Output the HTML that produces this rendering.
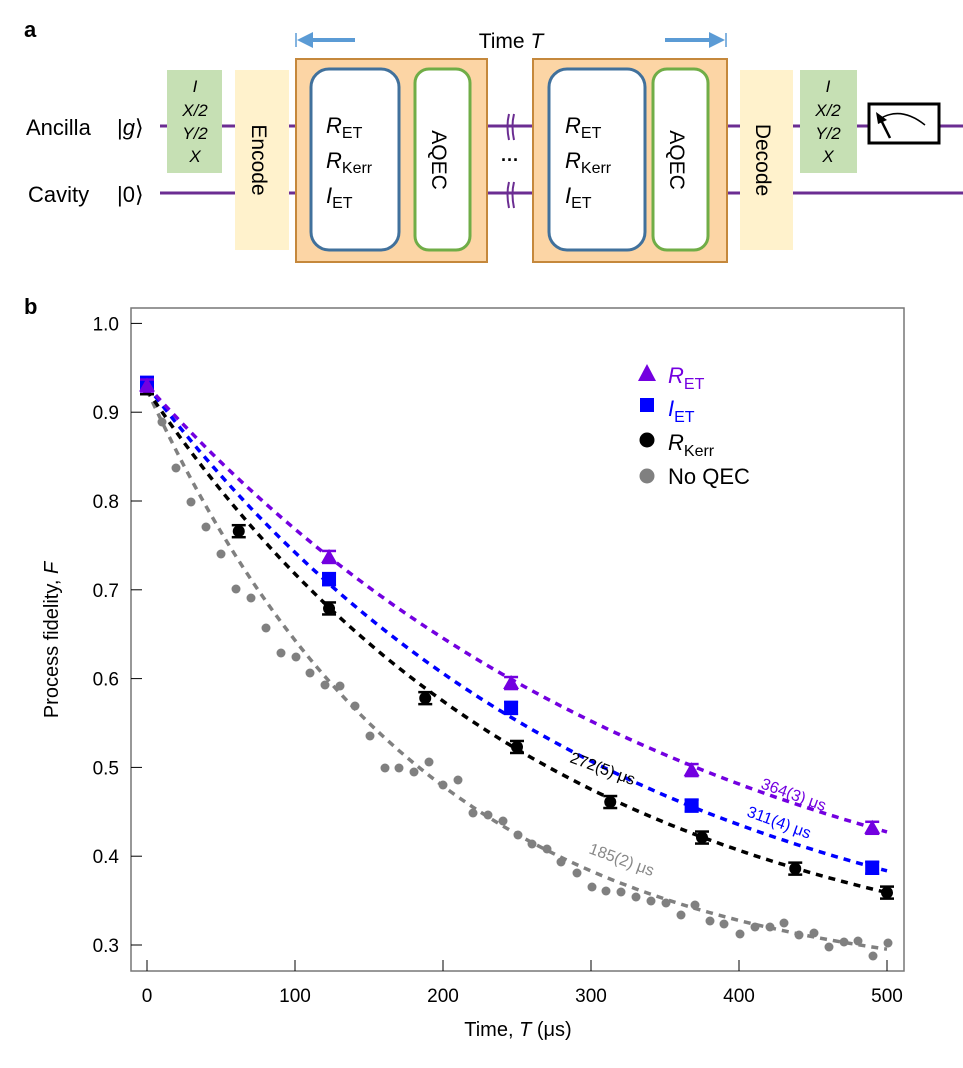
<!DOCTYPE html>
<html><head><meta charset="utf-8"><style>
html,body{margin:0;padding:0;background:#fff;}
svg{display:block;font-family:"Liberation Sans",Arial,sans-serif;}
</style></head><body>
<svg id="s" width="963" height="1068" viewBox="0 0 963 1068" xmlns="http://www.w3.org/2000/svg">
<text x="24" y="37" font-size="22" font-weight="bold">a</text>
<text x="24" y="314" font-size="22" font-weight="bold">b</text>
<line x1="160" y1="126" x2="963" y2="126" stroke="#6b2d92" stroke-width="3"/>
<line x1="160" y1="193" x2="963" y2="193" stroke="#6b2d92" stroke-width="3"/>
<text x="26" y="135" font-size="22" font-weight="normal">Ancilla</text>
<text x="117" y="135" font-size="22" font-weight="normal">|<tspan font-style="italic">g</tspan>⟩</text>
<text x="28" y="202" font-size="22" font-weight="normal">Cavity</text>
<text x="117" y="202" font-size="22" font-weight="normal">|0⟩</text>
<rect x="167" y="70" width="55" height="103" fill="#c6e0b4"/>
<g font-size="17" font-style="italic" text-anchor="middle"><text x="195" y="92">I</text><text x="195" y="116">X/2</text><text x="195" y="139">Y/2</text><text x="195" y="162">X</text></g>
<rect x="235" y="70" width="54" height="180" fill="#fff2cc"/>
<text transform="translate(252,160) rotate(90)" font-size="21" text-anchor="middle">Encode</text>
<rect x="296" y="59" width="191" height="203" fill="#fcd5a5" stroke="#c5883c" stroke-width="2"/>
<rect x="311" y="69" width="88" height="181" rx="18" fill="#fff" stroke="#41719c" stroke-width="3"/>
<rect x="415" y="69" width="55" height="181" rx="14" fill="#fff" stroke="#70ad47" stroke-width="3"/>
<text transform="translate(432,160) rotate(90)" font-size="21" text-anchor="middle">AQEC</text>
<g font-size="22"><text x="326" y="133" font-style="italic">R<tspan font-size="16" font-style="normal" dy="5">ET</tspan></text>
<text x="326" y="168" font-style="italic">R<tspan font-size="16" font-style="normal" dy="5">Kerr</tspan></text>
<text x="326" y="203" font-style="italic">I<tspan font-size="16" font-style="normal" dy="5">ET</tspan></text></g>
<rect x="533" y="59" width="194" height="203" fill="#fcd5a5" stroke="#c5883c" stroke-width="2"/>
<rect x="549" y="69" width="96" height="181" rx="18" fill="#fff" stroke="#41719c" stroke-width="3"/>
<rect x="653" y="69" width="55" height="181" rx="14" fill="#fff" stroke="#70ad47" stroke-width="3"/>
<text transform="translate(670,160) rotate(90)" font-size="21" text-anchor="middle">AQEC</text>
<g font-size="22"><text x="565" y="133" font-style="italic">R<tspan font-size="16" font-style="normal" dy="5">ET</tspan></text>
<text x="565" y="168" font-style="italic">R<tspan font-size="16" font-style="normal" dy="5">Kerr</tspan></text>
<text x="565" y="203" font-style="italic">I<tspan font-size="16" font-style="normal" dy="5">ET</tspan></text></g>
<g stroke="#6b2d92" stroke-width="2" fill="none"><path d="M278 114 q-3 12 0 26 M283 114 q-3 12 0 26 M278 182 q-3 12 0 26 M283 182 q-3 12 0 26" transform="translate(231,0)"/></g>
<text x="510" y="166" font-size="18" font-weight="bold" text-anchor="middle">···</text>
<rect x="740" y="70" width="53" height="180" fill="#fff2cc"/>
<text transform="translate(756,160) rotate(90)" font-size="21" text-anchor="middle">Decode</text>
<rect x="800" y="70" width="57" height="103" fill="#c6e0b4"/>
<g font-size="17" font-style="italic" text-anchor="middle"><text x="828" y="92">I</text><text x="828" y="116">X/2</text><text x="828" y="139">Y/2</text><text x="828" y="162">X</text></g>
<rect x="869" y="104" width="70" height="39" fill="#fff" stroke="#000" stroke-width="3"/>
<path d="M878 120 Q900 105 925 125" stroke="#000" stroke-width="1.5" fill="none"/>
<line x1="890" y1="138" x2="880" y2="118" stroke="#000" stroke-width="2.5"/>
<polygon points="876,112 887,120 878,124" fill="#000"/>
<line x1="296" y1="33" x2="296" y2="47" stroke="#5b9bd5" stroke-width="1.5"/>
<line x1="310" y1="40" x2="355" y2="40" stroke="#5b9bd5" stroke-width="4"/>
<polygon points="297,40 313,32 313,48" fill="#5b9bd5"/>
<line x1="726" y1="33" x2="726" y2="47" stroke="#5b9bd5" stroke-width="1.5"/>
<line x1="665" y1="40" x2="712" y2="40" stroke="#5b9bd5" stroke-width="4"/>
<polygon points="725,40 709,32 709,48" fill="#5b9bd5"/>
<text x="511" y="48" font-size="21" text-anchor="middle">Time <tspan font-style="italic">T</tspan></text>
<rect x="131" y="308" width="773" height="663" fill="none" stroke="#777" stroke-width="1.5"/>
<g id="ticks" stroke="#000" stroke-width="1"></g>
<g id="tl" font-size="19" fill="#000"></g>
<text transform="translate(58,640) rotate(-90)" font-size="20" text-anchor="middle">Process fidelity, <tspan font-style="italic">F</tspan></text>
<text x="518" y="1036" font-size="20" text-anchor="middle">Time, <tspan font-style="italic">T</tspan> (μs)</text>
<g id="data"></g>
<text transform="translate(760,788) rotate(20)" font-size="16" fill="#7300e0">364(3) μs</text>
<text transform="translate(746,816) rotate(20)" font-size="16" fill="#0000ff">311(4) μs</text>
<text transform="translate(569,762) rotate(20)" font-size="16" fill="#000">272(5) μs</text>
<text transform="translate(588,853) rotate(20)" font-size="16" fill="#888">185(2) μs</text>
<polygon points="638,381 656,381 647,364" fill="#7300e0"/>
<text x="668" y="383" font-size="22" fill="#7300e0" font-style="italic">R<tspan font-size="16" font-style="normal" dy="6">ET</tspan></text>
<rect x="640" y="398" width="14" height="14" fill="#0000ff"/>
<text x="668" y="416" font-size="22" fill="#0000ff" font-style="italic">I<tspan font-size="16" font-style="normal" dy="6">ET</tspan></text>
<circle cx="647" cy="440" r="7.5" fill="#000"/>
<text x="668" y="450" font-size="22" font-style="italic">R<tspan font-size="16" font-style="normal" dy="6">Kerr</tspan></text>
<circle cx="647" cy="476" r="7.5" fill="#808080"/>
<text x="668" y="484" font-size="22">No QEC</text>
</svg>
<script>
var NS="http://www.w3.org/2000/svg";
function X(t){return 147+t*1.48;}
function Y(f){return 945-(f-0.3)*888;}
function el(p,tag,a){var e=document.createElementNS(NS,tag);for(var k in a)e.setAttribute(k,a[k]);p.appendChild(e);return e;}
var tk=document.getElementById('ticks'),tl=document.getElementById('tl'),d=document.getElementById('data');
for(var i=0;i<=7;i++){var f=0.3+i*0.1,y=Y(f);el(tk,'line',{x1:131,x2:142,y1:y,y2:y});
 var t=el(tl,'text',{x:119,y:y+7,'text-anchor':'end'});t.textContent=f.toFixed(1);}
for(var i=0;i<=5;i++){var x=X(i*100);el(tk,'line',{x1:x,x2:x,y1:960,y2:971});
 var t=el(tl,'text',{x:x,y:1002,'text-anchor':'middle'});t.textContent=String(i*100);}
function curve(f0,tau,c,col){var p='';for(var t=0;t<=500;t+=5){var f=c+(f0-c)*Math.exp(-t/tau);p+=(t?'L':'M')+X(t).toFixed(1)+' '+Y(f).toFixed(1);}
 el(d,'path',{d:p,fill:'none',stroke:col,'stroke-width':3.5,'stroke-dasharray':'7 6'});}
var g=[[148,382],[162,422],[176,468],[191,502],[206,527],[221,554],[236,589],[251,598],[266,628],[281,653],[296,657],[310,673],[325,685],[340,686],[355,706],[370,736],[385,768],[399,768],[414,772],[429,762],[443,785],[458,780],[473,813],[488,815],[503,821],[518,835],[532,844],[547,849],[561,862],[577,873],[592,887],[606,891],[621,892],[636,897],[651,901],[666,903],[681,915],[695,905],[710,921],[724,924],[740,934],[755,927],[770,927],[784,923],[799,935],[814,933],[829,947],[844,942],[858,941],[873,956],[888,943]];
g.forEach(function(p){el(d,'circle',{cx:p[0],cy:p[1],r:4.5,fill:'#808080'});});
curve(0.925,185,0.25,'#808080');
curve(0.925,272,0.252,'#000');
curve(0.93,311,0.2466,'#0000ff');
curve(0.93,364,0.257,'#7300e0');
function eb(x,y,col){el(d,'line',{x1:x,x2:x,y1:y-6,y2:y+6,stroke:col,'stroke-width':2});el(d,'line',{x1:x-7,x2:x+7,y1:y-6,y2:y-6,stroke:col,'stroke-width':2.5});el(d,'line',{x1:x-7,x2:x+7,y1:y+6,y2:y+6,stroke:col,'stroke-width':2.5});}
[[0,0.927],[62,0.766],[123,0.679],[188,0.578],[250,0.523],[313,0.461],[375,0.421],[438,0.386],[500,0.359]].forEach(function(p){var x=X(p[0]),y=Y(p[1]);eb(x,y,'#000');el(d,'circle',{cx:x,cy:y,r:6,fill:'#000'});});
[[0,0.933],[123,0.712],[246,0.567],[368,0.457],[490,0.387]].forEach(function(p){var x=X(p[0]),y=Y(p[1]);eb(x,y,'#0000ff');el(d,'rect',{x:x-7,y:y-7,width:14,height:14,fill:'#0000ff'});});
[[0,0.93],[123,0.737],[246,0.595],[368,0.497],[490,0.432]].forEach(function(p){var x=X(p[0]),y=Y(p[1]);eb(x,y,'#7300e0');el(d,'polygon',{points:(x-8)+','+(y+6)+' '+(x+8)+','+(y+6)+' '+x+','+(y-8),fill:'#7300e0'});});
</script>
</body></html>
